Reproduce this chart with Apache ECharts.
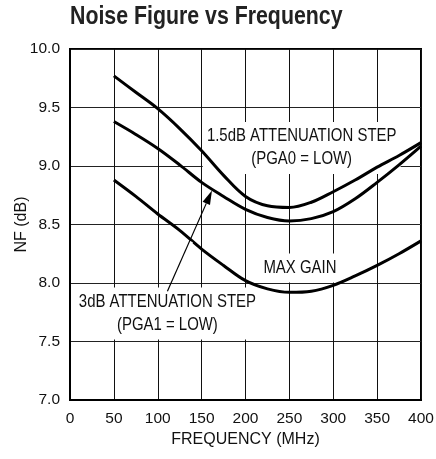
<!DOCTYPE html>
<html>
<head>
<meta charset="utf-8">
<script src="https://cdn.jsdelivr.net/npm/echarts@6/dist/echarts.min.js"></script>
<style>html,body{margin:0;padding:0;background:#fff}#c{width:436px;height:459px}</style>
</head>
<body>
<div id="c"></div>
<script>
const frequency = [50, 75, 100, 125, 150, 175, 200, 225, 250, 275, 300, 325, 350, 375, 400];
const nf_1p5dB = [9.77, 9.63, 9.49, 9.32, 9.13, 8.92, 8.74, 8.66, 8.645, 8.69, 8.78, 8.88, 8.99, 9.09, 9.20];
const nf_3dB   = [9.38, 9.27, 9.15, 9.01, 8.86, 8.74, 8.63, 8.56, 8.53, 8.55, 8.61, 8.72, 8.86, 9.01, 9.17];
const nf_maxGain = [8.88, 8.74, 8.59, 8.45, 8.29, 8.15, 8.02, 7.95, 7.92, 7.93, 7.98, 8.06, 8.15, 8.25, 8.36];
const xTicks = [0, 50, 100, 150, 200, 250, 300, 350, 400];
const yTicks = [7.0, 7.5, 8.0, 8.5, 9.0, 9.5, 10.0];
const titleText = 'Noise Figure vs Frequency';
const xName = 'FREQUENCY (MHz)';
const yName = 'NF (dB)';
const labels = [
  { lines: ['1.5dB ATTENUATION STEP', '(PGA0 = LOW)'], at: [264, 9.154] },
  { lines: ['MAX GAIN'], at: [262, 8.128] },
  { lines: ['3dB ATTENUATION STEP', '(PGA1 = LOW)'], at: [111, 7.739] }
];
const arrowTail = [111, 7.93];
const arrowTip = [161.8, 8.79];

const FONT = '"Liberation Sans", Arial, sans-serif';
const chart = echarts.init(document.getElementById('c'), null, { renderer: 'canvas' });
const pair = (xs, ys) => xs.map((x, i) => [x, ys[i]]);
const lineSeries = (data) => ({
  type: 'line', data: data, smooth: 0.35, symbol: 'none', z: 2,
  lineStyle: { color: '#000', width: 3 }
});
chart.setOption({
  animation: false,
  backgroundColor: '#fff',
  grid: { left: 70, right: 15, top: 49, bottom: 59, containLabel: false, outerBoundsMode: 'none', show: true, borderColor: '#000', borderWidth: 2, backgroundColor: 'transparent' },
  xAxis: {
    type: 'value', min: xTicks[0], max: xTicks[xTicks.length - 1], interval: 50,
    name: xName, nameLocation: 'middle', nameGap: 31,
    nameTextStyle: { fontFamily: FONT, fontSize: 16, color: '#111' },
    axisLine: { show: true, lineStyle: { color: '#000', width: 2 } },
    axisTick: { show: false },
    axisLabel: { fontFamily: FONT, fontSize: 15.5, color: '#111', margin: 11 },
    splitLine: { show: true, lineStyle: { color: '#111', width: 1 } }
  },
  yAxis: {
    type: 'value', min: yTicks[0], max: yTicks[yTicks.length - 1], interval: 0.5,
    name: yName, nameLocation: 'middle', nameGap: 40, nameMoveOverlap: false,
    nameTextStyle: { fontFamily: FONT, fontSize: 16, color: '#111' },
    axisLine: { show: true, lineStyle: { color: '#000', width: 2 } },
    axisTick: { show: false },
    axisLabel: { fontFamily: FONT, fontSize: 15.5, color: '#111', margin: 10, formatter: v => v.toFixed(1) },
    splitLine: { show: true, lineStyle: { color: '#222', width: 1 } }
  },
  series: [lineSeries(pair(frequency, nf_1p5dB)), lineSeries(pair(frequency, nf_3dB)), lineSeries(pair(frequency, nf_maxGain))]
});

const px = p => chart.convertToPixel({ gridIndex: 0 }, p);
const graphics = [];
graphics.push({
  type: 'text', z: 5, x: 70, y: 17, scaleX: 0.82,
  style: { text: titleText, fontFamily: FONT, fontSize: 26, fontWeight: 'bold', fill: '#222', align: 'left', verticalAlign: 'middle' }
});
labels.forEach(l => {
  const c = px(l.at);
  graphics.push({
    type: 'text', z: 1, x: c[0], y: c[1], scaleX: 0.83,
    style: {
      text: l.lines.join('\n'), fontFamily: FONT, fontSize: 18, lineHeight: 23, fill: '#111',
      align: 'center', verticalAlign: 'middle', backgroundColor: '#fff', padding: [3, 5, 3, 5]
    }
  });
});
const t = px(arrowTail), h = px(arrowTip);
const dx = h[0] - t[0], dy = h[1] - t[1], len = Math.hypot(dx, dy);
const ux = dx / len, uy = dy / len, nx = -uy, ny = ux;
const headL = 14, headW = 4;
const base = [h[0] - ux * headL, h[1] - uy * headL];
const g1 = [t[0] + ux * len * 0.3, t[1] + uy * len * 0.3], g2 = [t[0] + ux * len * 0.5, t[1] + uy * len * 0.5];
graphics.push({ type: 'line', z: 3, shape: { x1: g1[0], y1: g1[1], x2: g2[0], y2: g2[1] }, style: { stroke: '#fff', lineWidth: 7 } });
graphics.push({ type: 'line', z: 4, shape: { x1: t[0], y1: t[1], x2: base[0], y2: base[1] }, style: { stroke: '#000', lineWidth: 1.2 } });
graphics.push({ type: 'polygon', z: 4, shape: { points: [h, [base[0] + nx * headW, base[1] + ny * headW], [base[0] - nx * headW, base[1] - ny * headW]] }, style: { fill: '#000' } });
chart.setOption({ graphic: graphics });
</script>
</body>
</html>
